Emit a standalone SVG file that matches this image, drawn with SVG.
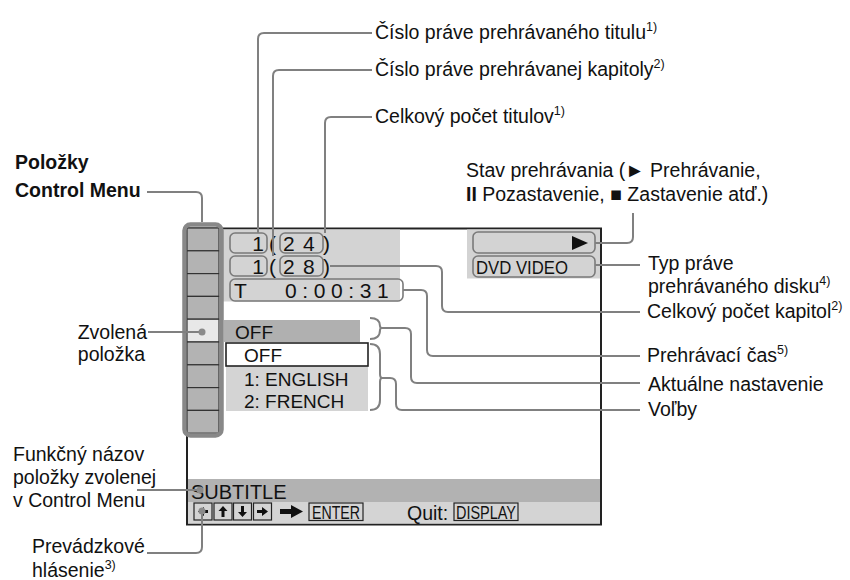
<svg xmlns="http://www.w3.org/2000/svg" width="850" height="580" viewBox="0 0 850 580">
<style>
text{font-family:"Liberation Sans",Arial,Helvetica,sans-serif;fill:#111}
.lbl{font-size:19.5px}
.sup{font-size:12.5px}
.scr{font-size:19px}
.dig{font-size:21px}
.con{fill:none;stroke:#808080;stroke-width:2}
.rb{fill:none;stroke:#7a7a7a;stroke-width:1.6}
.key{fill:#d4d4d4;stroke:#222;stroke-width:1.2}
.cell{fill:#b3b3b3;stroke:#333;stroke-width:1.2}
.dot{fill:#8a8a8a}
</style>
<rect width="850" height="580" fill="#fff"/>
<g id="screen">
<rect x="187" y="228.5" width="414" height="296" fill="#fff" stroke="#222" stroke-width="2"/>
<rect x="223" y="229.5" width="177" height="72" fill="#d3d3d3"/>
<rect x="467" y="229.5" width="133" height="49" fill="#d3d3d3"/>
<rect x="188" y="479" width="412" height="23" fill="#b2b2b2"/>
<rect x="188" y="502" width="412" height="21.5" fill="#d4d4d4"/>
</g>
<g id="menu-column">
<rect x="187" y="228" width="32" height="22.8" class="cell"/>
<rect x="187" y="250.8" width="32" height="22.8" class="cell"/>
<rect x="187" y="273.6" width="32" height="22.8" class="cell"/>
<rect x="187" y="296.4" width="32" height="22.8" class="cell"/>
<rect x="187" y="319.2" width="32" height="22.8" fill="#e8e8e8" stroke="#333" stroke-width="1.2"/>
<rect x="187" y="342" width="32" height="22.8" class="cell"/>
<rect x="187" y="364.8" width="32" height="22.8" class="cell"/>
<rect x="187" y="387.6" width="32" height="22.8" class="cell"/>
<rect x="187" y="410.4" width="32" height="22.8" class="cell"/>
<rect x="184.5" y="224.5" width="37" height="211" rx="6" fill="none" stroke="#888" stroke-width="4.5"/>
</g>
<g id="title-row">
<rect x="230" y="233" width="37" height="20" rx="5" class="rb"/>
<text x="264" y="251" class="dig" text-anchor="end">1</text>
<text x="269" y="251" class="dig">(</text>
<rect x="280" y="233" width="43" height="20" rx="5" class="rb"/>
<text x="283" y="251" class="dig">2</text>
<text x="303" y="251" class="dig">4</text>
<text x="323" y="251" class="dig">)</text>
</g>
<g id="chapter-row">
<rect x="230" y="256" width="37" height="20" rx="5" class="rb"/>
<text x="264" y="274" class="dig" text-anchor="end">1</text>
<text x="269" y="274" class="dig">(</text>
<rect x="280" y="256" width="43" height="20" rx="5" class="rb"/>
<text x="283" y="274" class="dig">2</text>
<text x="303" y="274" class="dig">8</text>
<text x="323" y="274" class="dig">)</text>
</g>
<g id="time-row">
<rect x="230" y="279" width="173" height="22" rx="5" class="rb"/>
<text x="234" y="298" class="dig">T</text>
<text x="285" y="298" class="dig" letter-spacing="5.6">0:00:31</text>
</g>
<g id="play-state">
<rect x="473" y="232" width="122" height="21" rx="5" class="rb"/>
<polygon points="572,236 588,243 572,250" fill="#111"/>
</g>
<g id="disc-type">
<rect x="473" y="256" width="122" height="21" rx="5" class="rb"/>
<text x="476" y="274" font-size="19" textLength="92" lengthAdjust="spacingAndGlyphs">DVD VIDEO</text>
</g>
<g id="current-setting">
<rect x="224" y="320" width="136" height="22" fill="#b0b0b0"/>
<text x="235" y="339" class="scr">OFF</text>
<path d="M370,318 Q380,318 380,326 Q380,328 382,328 Q380,328 380,330 Q380,339 370,339" class="con" stroke-width="1.8"/>
</g>
<g id="options">
<rect x="226" y="366" width="142" height="45" fill="#d4d4d4"/>
<rect x="226" y="343" width="142" height="23" fill="#fff" stroke="#222" stroke-width="1.6"/>
<text x="244" y="362" class="scr">OFF</text>
<text x="244" y="386" class="scr">1: ENGLISH</text>
<text x="244" y="408" class="scr">2: FRENCH</text>
<path d="M370,344 Q380,344 380,354 V374 Q380,378 382,378 Q380,378 380,382 V400 Q380,410 370,410" class="con" stroke-width="1.8"/>
</g>
<g id="subtitle-bar">
<text x="191" y="499" font-size="20">SUBTITLE</text>
</g>
<g id="keys">
<rect x="194" y="503" width="18" height="17" class="key"/>
<path d="M198,511.5 L204,507 V510 H208 V513 H204 V516 Z" fill="#111"/>
<rect x="214" y="503" width="18" height="17" class="key"/>
<path d="M223,506 L227.5,511 H224.5 V517 H221.5 V511 H218.5 Z" fill="#111"/>
<rect x="233.5" y="503" width="18" height="17" class="key"/>
<path d="M242.5,517 L247,512 H244 V506 H241 V512 H238 Z" fill="#111"/>
<rect x="253.5" y="503" width="18" height="17" class="key"/>
<path d="M268,511.5 L262,507 V510 H257 V513 H262 V516 Z" fill="#111"/>
<path d="M280,509 H291 V505 L303,511.5 L291,518 V514 H280 Z" fill="#111"/>
<rect x="309" y="503" width="54" height="17.5" class="key"/>
<text x="312" y="519" font-size="19" textLength="48" lengthAdjust="spacingAndGlyphs">ENTER</text>
<text x="407" y="520" class="lbl">Quit:</text>
<rect x="454" y="503" width="64" height="17.5" class="key"/>
<text x="456" y="519" font-size="19" textLength="60" lengthAdjust="spacingAndGlyphs">DISPLAY</text>
</g>
<g id="connectors">
<path d="M372,33 H264 Q258,33 258,39 V233" class="con"/>
<path d="M372,70 H279 Q273,70 273,76 V256" class="con"/>
<path d="M372,117 H331 Q325,117 325,123 V233" class="con"/>
<path d="M147,192 H196 Q202,192 202,198 V222" class="con"/>
<path d="M595,243 H627 Q633,243 633,237 V213" class="con"/>
<path d="M595,265 H640" class="con"/>
<path d="M330,266 H436 Q442,266 442,272 V306 Q442,312 448,312 H640" class="con"/>
<path d="M403,290 H421 Q427,290 427,296 V350 Q427,356 433,356 H640" class="con"/>
<path d="M382,328 H405 Q411,328 411,334 V377 Q411,383 417,383 H640" class="con"/>
<path d="M382,378 H390 Q396,378 396,384 V404 Q396,410 402,410 H640" class="con"/>
<path d="M148,332 H202" class="con"/>
<circle cx="202" cy="332" r="3.5" class="dot"/>
<path d="M137,490 H200" class="con"/>
<circle cx="200" cy="490" r="3.5" class="dot"/>
<path d="M147,553 H196 Q202,553 202,547 V511" class="con"/>
<circle cx="202" cy="511" r="3.5" class="dot"/>
</g>
<g id="labels">
<text x="15" y="169" font-size="19.5" font-weight="bold">Položky</text>
<text x="15" y="197" font-size="19.5" font-weight="bold">Control Menu</text>
<text x="375" y="39" class="lbl">Číslo práve prehrávaného titulu<tspan class="sup" dy="-8">1)</tspan></text>
<text x="375" y="76" class="lbl">Číslo práve prehrávanej kapitoly<tspan class="sup" dy="-8">2)</tspan></text>
<text x="375" y="123" class="lbl">Celkový počet titulov<tspan class="sup" dy="-8">1)</tspan></text>
<text x="466" y="177" class="lbl">Stav prehrávania (► Prehrávanie,</text>
<text x="466" y="201" class="lbl"><tspan font-weight="bold">II</tspan> Pozastavenie, ■ Zastavenie atď.)</text>
<text x="648" y="270" class="lbl">Typ práve</text>
<text x="648" y="293" class="lbl">prehrávaného disku<tspan class="sup" dy="-8">4)</tspan></text>
<text x="647" y="318" class="lbl">Celkový počet kapitol<tspan class="sup" dy="-8">2)</tspan></text>
<text x="647" y="362" class="lbl">Prehrávací čas<tspan class="sup" dy="-8">5)</tspan></text>
<text x="648" y="391" class="lbl">Aktuálne nastavenie</text>
<text x="648" y="416" class="lbl">Voľby</text>
<text x="147" y="339" class="lbl" text-anchor="end">Zvolená</text>
<text x="145" y="361" class="lbl" text-anchor="end">položka</text>
<text x="13" y="461" class="lbl">Funkčný názov</text>
<text x="13" y="484" class="lbl">položky zvolenej</text>
<text x="13" y="507" class="lbl">v Control Menu</text>
<text x="32" y="553" class="lbl">Prevádzkové</text>
<text x="32" y="577" class="lbl">hlásenie<tspan class="sup" dy="-8">3)</tspan></text>
</g>
</svg>
